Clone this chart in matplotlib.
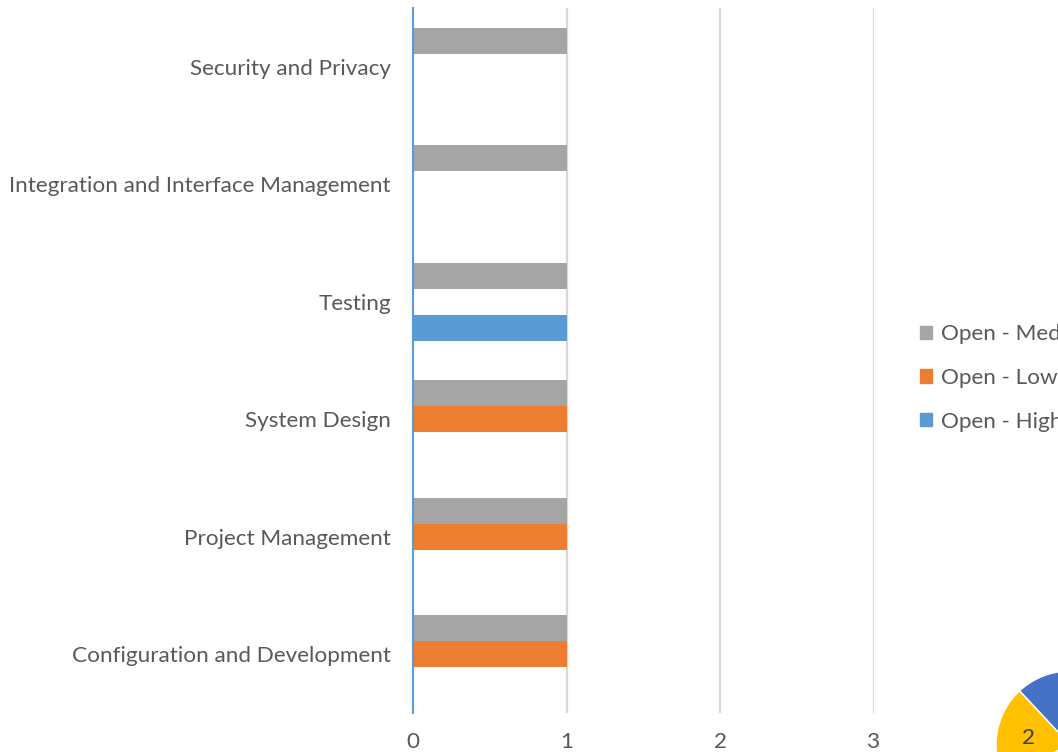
import numpy as np
import matplotlib
matplotlib.use("Agg")
import matplotlib.pyplot as plt
from matplotlib.patches import Patch

# categories bottom -> top
categories = ["Configuration and Development", "Project Management", "System Design",
              "Testing", "Integration and Interface Management", "Security and Privacy"]
open_high = [0, 0, 0, 1, 0, 0]
open_low = [1, 1, 1, 0, 0, 0]
open_med = [1, 1, 1, 1, 1, 1]
x_ticks = [0, 1, 2, 3]

# pie fragment in the corner (only part of it is on the sheet)
pie_values = [4, 2, 2, 2]
pie_colors = ["#4472C4", "#ED7D31", "#A5A5A5", "#FFC000"]
pie_shown = [False, False, False, True]   # labels that fall inside the sheet

txt = "#595959"
fs = 16.2
plt.rcParams['font.family'] = ['Lato', 'DejaVu Sans']

fig = plt.figure(figsize=(10.58, 7.52), dpi=100)
ax = fig.add_axes([413/1058, 1-713/752, (874-413)/1058, (713-8)/752])

y = np.arange(len(categories))
h = 0.22
ax.barh(y - h, open_high, height=h, color="#5B9BD5", zorder=3)
ax.barh(y, open_low, height=h, color="#ED7D31", zorder=3)
ax.barh(y + h, open_med, height=h, color="#A5A5A5", zorder=3)

ax.set_xlim(0, 3)
ax.set_ylim(-0.5, len(categories) - 0.5)
ax.set_xticks(x_ticks)
ax.set_yticks(y)
ax.set_yticklabels(categories)
ax.tick_params(axis='both', length=0, labelsize=fs, labelcolor=txt)
ax.tick_params(axis='y', pad=16)
ax.tick_params(axis='x', pad=13.5)
ax.grid(axis='x', color="#D9D9D9", linewidth=1.6, zorder=0)
for s in ["top", "right", "bottom"]:
    ax.spines[s].set_visible(False)
ax.spines["left"].set_color("#5B9BD5")
ax.spines["left"].set_linewidth(1.5)
ax.spines["left"].set_zorder(4)

handles = [Patch(color="#A5A5A5", label="Open - Med"),
           Patch(color="#ED7D31", label="Open - Low"),
           Patch(color="#5B9BD5", label="Open - High")]
fig.legend(handles=handles, loc="center left", bbox_to_anchor=(920/1058, 1-378/752),
           frameon=False, fontsize=fs, labelcolor=txt, borderpad=0, borderaxespad=0,
           handlelength=0.55, handleheight=0.55, handletextpad=0.4, labelspacing=1.05)

pax = fig.add_axes([(1070-74)/1058, 1-(745+74)/752, 148/1058, 148/752])
pie_labels = [str(v) if s else "" for v, s in zip(pie_values, pie_shown)]
pax.pie(pie_values, colors=pie_colors, startangle=133, counterclock=False,
        labels=pie_labels, labeldistance=0.48,
        textprops=dict(fontsize=fs, color="#404040"),
        wedgeprops=dict(edgecolor="white", linewidth=1))
pax.set_xlim(-1, 1)
pax.set_ylim(-1, 1)

fig.savefig("out.png", dpi=100)
